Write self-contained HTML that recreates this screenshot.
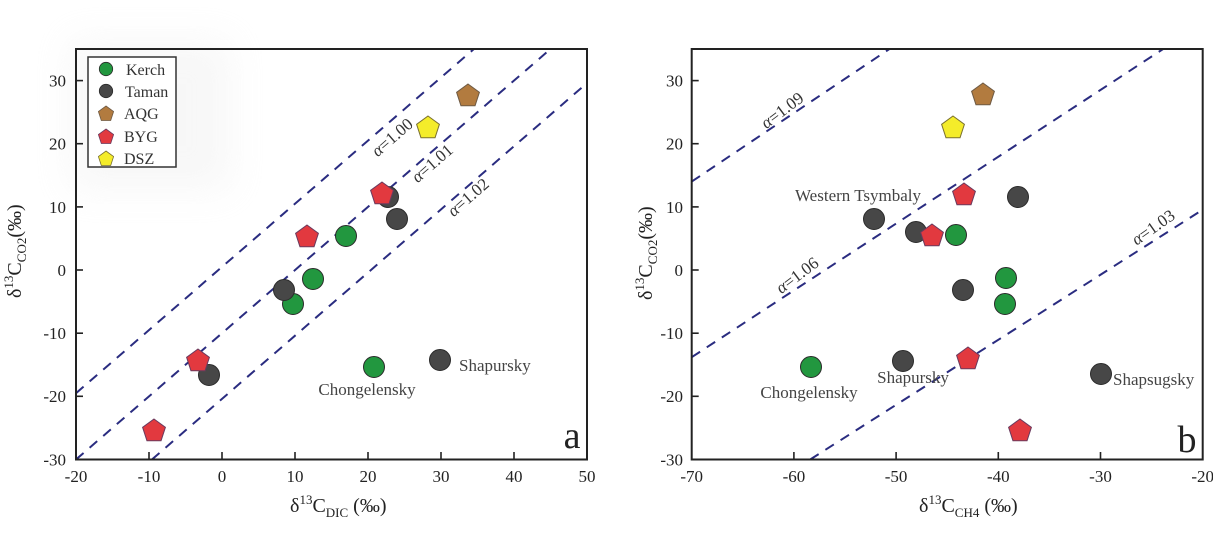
<!DOCTYPE html>
<html><head><meta charset="utf-8"><style>
html,body{margin:0;padding:0;background:#fff;}
svg{display:block;}
text{font-family:"Liberation Serif","Times New Roman",serif;}
</style></head><body>
<svg width="1213" height="535" viewBox="0 0 1213 535" xmlns="http://www.w3.org/2000/svg">
<defs>
<filter id="bl" x="-50%" y="-50%" width="200%" height="200%"><feGaussianBlur stdDeviation="18"/></filter>
<clipPath id="cl"><rect x="76" y="49" width="511" height="410.5"/></clipPath>
<clipPath id="cr"><rect x="691.7" y="49" width="511" height="410.5"/></clipPath>
<polygon id="p" points="0,-12 11.41,-3.71 7.05,9.71 -7.05,9.71 -11.41,-3.71"/>
<polygon id="ps" points="0,-8 7.6,-2.5 4.7,6.5 -4.7,6.5 -7.6,-2.5"/>
</defs>
<rect width="1213" height="535" fill="#fff"/>
<rect x="70" y="40" width="160" height="150" fill="#e6e6e6" opacity="0.3" filter="url(#bl)"/>

<!-- LEFT PANEL -->
<g clip-path="url(#cl)" stroke="#2a2c80" stroke-width="2" stroke-dasharray="10,8" fill="none">
<line x1="76" y1="393.2" x2="473.9" y2="49"/>
<line x1="76" y1="459.5" x2="550.5" y2="49"/>
<line x1="151.9" y1="459.5" x2="587" y2="83.1"/>
</g>
<g font-size="17" fill="#333">
<text transform="translate(392,137) rotate(-41)" text-anchor="middle" dy="0.35em"><tspan font-style="italic">α</tspan>=1.00</text>
<text transform="translate(432,163) rotate(-41)" text-anchor="middle" dy="0.35em"><tspan font-style="italic">α</tspan>=1.01</text>
<text transform="translate(468,197) rotate(-41)" text-anchor="middle" dy="0.35em"><tspan font-style="italic">α</tspan>=1.02</text>
</g>
<rect x="76" y="49" width="511" height="410.5" fill="none" stroke="#222" stroke-width="2"/>
<g stroke="#222" stroke-width="1.6">
<line x1="149" y1="459.5" x2="149" y2="452"/><line x1="222" y1="459.5" x2="222" y2="452"/>
<line x1="295" y1="459.5" x2="295" y2="452"/><line x1="368" y1="459.5" x2="368" y2="452"/>
<line x1="441" y1="459.5" x2="441" y2="452"/><line x1="514" y1="459.5" x2="514" y2="452"/>
<line x1="76" y1="80.6" x2="83" y2="80.6"/><line x1="76" y1="143.7" x2="83" y2="143.7"/>
<line x1="76" y1="206.9" x2="83" y2="206.9"/><line x1="76" y1="270" x2="83" y2="270"/>
<line x1="76" y1="333.2" x2="83" y2="333.2"/><line x1="76" y1="396.3" x2="83" y2="396.3"/>
</g>
<g font-size="17" fill="#222" text-anchor="middle">
<text x="76" y="482">-20</text><text x="149" y="482">-10</text><text x="222" y="482">0</text>
<text x="295" y="482">10</text><text x="368" y="482">20</text><text x="441" y="482">30</text>
<text x="514" y="482">40</text><text x="587" y="482">50</text>
</g>
<g font-size="17" fill="#222" text-anchor="end">
<text x="66" y="86.5">30</text><text x="66" y="149.6">20</text><text x="66" y="212.8">10</text>
<text x="66" y="275.9">0</text><text x="66" y="339.1">-10</text><text x="66" y="402.2">-20</text>
<text x="66" y="465.4">-30</text>
</g>
<text x="290" y="512" font-size="20" fill="#222">δ<tspan font-size="13" dy="-8">13</tspan><tspan dy="8">C</tspan><tspan font-size="13" dy="5">DIC</tspan><tspan dy="-5"> (‰)</tspan></text>
<text transform="translate(21,298) rotate(-90)" font-size="20" fill="#222">δ<tspan font-size="13" dy="-8">13</tspan><tspan dy="8">C</tspan><tspan font-size="13" dy="5">CO2</tspan><tspan dy="-5">(‰)</tspan></text>
<text x="572" y="448" font-size="38" fill="#222" text-anchor="middle">a</text>

<!-- left markers -->
<g stroke="#2a2a2a" stroke-width="1">
<circle cx="346" cy="236" r="10.5" fill="#22973f"/>
<circle cx="313" cy="279" r="10.5" fill="#22973f"/>
<circle cx="293" cy="304" r="10.5" fill="#22973f"/>
<circle cx="374" cy="367" r="10.5" fill="#22973f"/>
<circle cx="388" cy="197" r="10.5" fill="#474747"/>
<circle cx="397" cy="219" r="10.5" fill="#474747"/>
<circle cx="284" cy="290" r="10.5" fill="#474747"/>
<circle cx="209" cy="375" r="10.5" fill="#474747"/>
<circle cx="440" cy="360" r="10.5" fill="#474747"/>
</g>
<use href="#p" x="468" y="96" fill="#b27b3f" stroke="#6e5a44" stroke-width="1"/>
<use href="#p" x="428" y="128" fill="#f4ec2a" stroke="#7a7030" stroke-width="1"/>
<g fill="#e2393f" stroke="#6a3a5e" stroke-width="1">
<use href="#p" x="382" y="194"/>
<use href="#p" x="307" y="237"/>
<use href="#p" x="198" y="361"/>
<use href="#p" x="154" y="431"/>
</g>
<g font-size="17" fill="#444">
<text x="367" y="395" text-anchor="middle">Chongelensky</text>
<text x="459" y="371">Shapursky</text>
</g>

<!-- legend -->
<rect x="88" y="57" width="88" height="110" fill="#fff" stroke="#333" stroke-width="1.5"/>
<circle cx="106" cy="69" r="6.7" fill="#22973f" stroke="#2a2a2a" stroke-width="0.8"/>
<circle cx="106" cy="91" r="6.7" fill="#474747" stroke="#2a2a2a" stroke-width="0.8"/>
<use href="#ps" x="106" y="114" fill="#b27b3f" stroke="#6e5a44" stroke-width="0.8"/>
<use href="#ps" x="106" y="137" fill="#e2393f" stroke="#6a3a5e" stroke-width="0.8"/>
<use href="#ps" x="106" y="159" fill="#f4ec2a" stroke="#7a7030" stroke-width="0.8"/>
<g font-size="16" fill="#333">
<text x="126" y="75">Kerch</text>
<text x="125" y="97">Taman</text>
<text x="124" y="119">AQG</text>
<text x="124" y="142">BYG</text>
<text x="124" y="164">DSZ</text>
</g>

<!-- RIGHT PANEL -->
<g clip-path="url(#cr)" stroke="#2a2c80" stroke-width="2" stroke-dasharray="10,8" fill="none">
<line x1="691.7" y1="181.6" x2="889.4" y2="49"/>
<line x1="691.7" y1="357.2" x2="1163.1" y2="49"/>
<line x1="810.2" y1="459.5" x2="1202.7" y2="209.7"/>
</g>
<g font-size="17" fill="#333">
<text transform="translate(782,110) rotate(-37)" text-anchor="middle" dy="0.35em"><tspan font-style="italic">α</tspan>=1.09</text>
<text transform="translate(797,275) rotate(-37)" text-anchor="middle" dy="0.35em"><tspan font-style="italic">α</tspan>=1.06</text>
<text transform="translate(1153,227) rotate(-35)" text-anchor="middle" dy="0.35em"><tspan font-style="italic">α</tspan>=1.03</text>
</g>
<rect x="691.7" y="49" width="511" height="410.5" fill="none" stroke="#222" stroke-width="2"/>
<g stroke="#222" stroke-width="1.6">
<line x1="793.9" y1="459.5" x2="793.9" y2="452"/><line x1="896.1" y1="459.5" x2="896.1" y2="452"/>
<line x1="998.3" y1="459.5" x2="998.3" y2="452"/><line x1="1100.5" y1="459.5" x2="1100.5" y2="452"/>
<line x1="691.7" y1="80.6" x2="698.7" y2="80.6"/><line x1="691.7" y1="143.7" x2="698.7" y2="143.7"/>
<line x1="691.7" y1="206.9" x2="698.7" y2="206.9"/><line x1="691.7" y1="270" x2="698.7" y2="270"/>
<line x1="691.7" y1="333.2" x2="698.7" y2="333.2"/><line x1="691.7" y1="396.3" x2="698.7" y2="396.3"/>
</g>
<g font-size="17" fill="#222" text-anchor="middle">
<text x="691.7" y="482">-70</text><text x="793.9" y="482">-60</text><text x="896.1" y="482">-50</text>
<text x="998.3" y="482">-40</text><text x="1100.5" y="482">-30</text><text x="1202.7" y="482">-20</text>
</g>
<g font-size="17" fill="#222" text-anchor="end">
<text x="683" y="86.5">30</text><text x="683" y="149.6">20</text><text x="683" y="212.8">10</text>
<text x="683" y="275.9">0</text><text x="683" y="339.1">-10</text><text x="683" y="402.2">-20</text>
<text x="683" y="465.4">-30</text>
</g>
<text x="919" y="512" font-size="20" fill="#222">δ<tspan font-size="13" dy="-8">13</tspan><tspan dy="8">C</tspan><tspan font-size="13" dy="5">CH4</tspan><tspan dy="-5"> (‰)</tspan></text>
<text transform="translate(652,300) rotate(-90)" font-size="20" fill="#222">δ<tspan font-size="13" dy="-8">13</tspan><tspan dy="8">C</tspan><tspan font-size="13" dy="5">CO2</tspan><tspan dy="-5">(‰)</tspan></text>
<text x="1187" y="452" font-size="38" fill="#222" text-anchor="middle">b</text>

<!-- right markers -->
<g stroke="#2a2a2a" stroke-width="1">
<circle cx="1018" cy="197" r="10.5" fill="#474747"/>
<circle cx="874" cy="219" r="10.5" fill="#474747"/>
<circle cx="916" cy="232" r="10.5" fill="#474747"/>
<circle cx="956" cy="235" r="10.5" fill="#22973f"/>
<circle cx="963" cy="290" r="10.5" fill="#474747"/>
<circle cx="1006" cy="278" r="10.5" fill="#22973f"/>
<circle cx="1005" cy="304" r="10.5" fill="#22973f"/>
<circle cx="811" cy="367" r="10.5" fill="#22973f"/>
<circle cx="903" cy="361" r="10.5" fill="#474747"/>
<circle cx="1101" cy="374" r="10.5" fill="#474747"/>
</g>
<use href="#p" x="983" y="95" fill="#b27b3f" stroke="#6e5a44" stroke-width="1"/>
<use href="#p" x="953" y="128" fill="#f4ec2a" stroke="#7a7030" stroke-width="1"/>
<g fill="#e2393f" stroke="#6a3a5e" stroke-width="1">
<use href="#p" x="964" y="195"/>
<use href="#p" x="932" y="236"/>
<use href="#p" x="968" y="359"/>
<use href="#p" x="1020" y="431"/>
</g>
<g font-size="17" fill="#444">
<text x="795" y="201">Western Tsymbaly</text>
<text x="809" y="398" text-anchor="middle">Chongelensky</text>
<text x="913" y="383" text-anchor="middle">Shapursky</text>
<text x="1113" y="385">Shapsugsky</text>
</g>
</svg>
</body></html>
